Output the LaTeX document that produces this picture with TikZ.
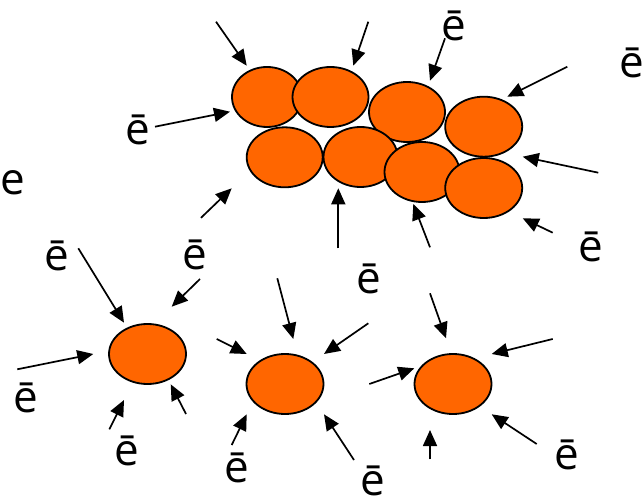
\documentclass[tikz,border=0pt]{standalone}
\usepackage{fontspec}
\setmainfont{Open Sans}
\usetikzlibrary{shapes.geometric,arrows.meta}
\definecolor{ballorange}{HTML}{FF6600}
\tikzset{
  ball/.style={ellipse,draw=black,line width=1.8pt,fill=ballorange,inner sep=0pt,
    minimum width=76pt,minimum height=60pt},
  elec/.style={-{Triangle[length=16pt,width=14pt]},line width=1.7pt},
  lbl/.style={inner sep=0pt,font=\fontsize{44}{50}\selectfont}
}
\begin{document}
\begin{tikzpicture}[x=1pt,y=-1pt]
\useasboundingbox (0,0) rectangle (644,502);
% top cluster
\node[ball,minimum width=70pt] (e1) at (267,97) {};
\node[ball] (e2) at (330.5,97) {};
\node[ball] (e3) at (407,112) {};
\node[ball,minimum width=77pt] (e4) at (483.7,126.7) {};
\node[ball] (e5) at (284.7,157.3) {};
\node[ball,minimum width=74pt] (e6) at (360.5,157) {};
\node[ball,minimum width=75pt] (e7) at (422,172) {};
\node[ball,minimum width=77pt] (e8) at (483.7,188) {};
% bottom balls
\node[ball,minimum width=77pt] (b1) at (147.5,354) {};
\node[ball,minimum width=77pt] (b2) at (285,384) {};
\node[ball,minimum width=77pt] (b3) at (453,384) {};
% labels
\node[lbl] (l1) at (137.5,130) {ē};
\node[lbl,anchor=base] (l2) at (12.5,195) {e};
\node[lbl] (l3) at (454,26) {ē};
\node[lbl] (l4) at (632,63) {ē};
\node[lbl] (l5) at (591,247) {ē};
\node[lbl] (l6) at (57,256) {ē};
\node[lbl] (l7) at (195,255) {ē};
\node[lbl] (l8) at (369,279) {ē};
\node[lbl] (l9) at (26,398) {ē};
\node[lbl] (l10) at (127,451) {ē};
\node[lbl] (l11) at (237,468) {ē};
\node[lbl] (l12) at (373,481) {ē};
\node[lbl] (l13) at (567,455) {ē};
% arrow end points
\coordinate (s1) at (216,21.7);   \coordinate (t1) at (246.7,65.7);
\coordinate (s2) at (368.3,21.7); \coordinate (t2) at (353.3,65.7);
\coordinate (s3) at (445,38.3);   \coordinate (t3) at (430,80.7);
\coordinate (s4) at (567.3,66.7); \coordinate (t4) at (507.3,96.7);
\coordinate (s5) at (598.3,172.7);\coordinate (t5) at (522.7,156.7);
\coordinate (s6) at (552.7,232.7);\coordinate (t6) at (522.7,218.3);
\coordinate (s7) at (430,247.3);  \coordinate (t7) at (413.3,204);
\coordinate (s8) at (338.3,248.3);\coordinate (t8) at (338.3,188.3);
\coordinate (s9) at (201,217.8);  \coordinate (t9) at (231.7,188.3);
\coordinate (s10) at (155,126.7); \coordinate (t10) at (230,111.7);
\coordinate (s11) at (200,279);   \coordinate (t11) at (171.7,306.7);
\coordinate (s12) at (78.3,248.3);\coordinate (t12) at (124,322.7);
\coordinate (s13) at (17.3,369.3);\coordinate (t13) at (93.3,354);
\coordinate (s14) at (109.3,429.3);\coordinate (t14) at (124,400);
\coordinate (s15) at (186,414);   \coordinate (t15) at (170.7,384.3);
\coordinate (s16) at (216.7,339); \coordinate (t16) at (246.7,354);
\coordinate (s17) at (277.3,278.3);\coordinate (t17) at (293.3,339);
\coordinate (s18) at (368.3,323.3);\coordinate (t18) at (324,354);
\coordinate (s19) at (231.7,445); \coordinate (t19) at (246.7,414.3);
\coordinate (s20) at (354,460);   \coordinate (t20) at (324,414.3);
\coordinate (s21) at (369.3,384); \coordinate (t21) at (414.3,368.3);
\coordinate (s22) at (430,293.3); \coordinate (t22) at (446,338.3);
\coordinate (s23) at (552.7,339); \coordinate (t23) at (491.7,354);
\coordinate (s24) at (536.7,444); \coordinate (t24) at (491.7,414.3);
\coordinate (s25) at (430,459.3); \coordinate (t25) at (430,430);
\foreach \i in {1,...,25} {\draw[elec] (s\i) -- (t\i);}
\end{tikzpicture}
\end{document}
